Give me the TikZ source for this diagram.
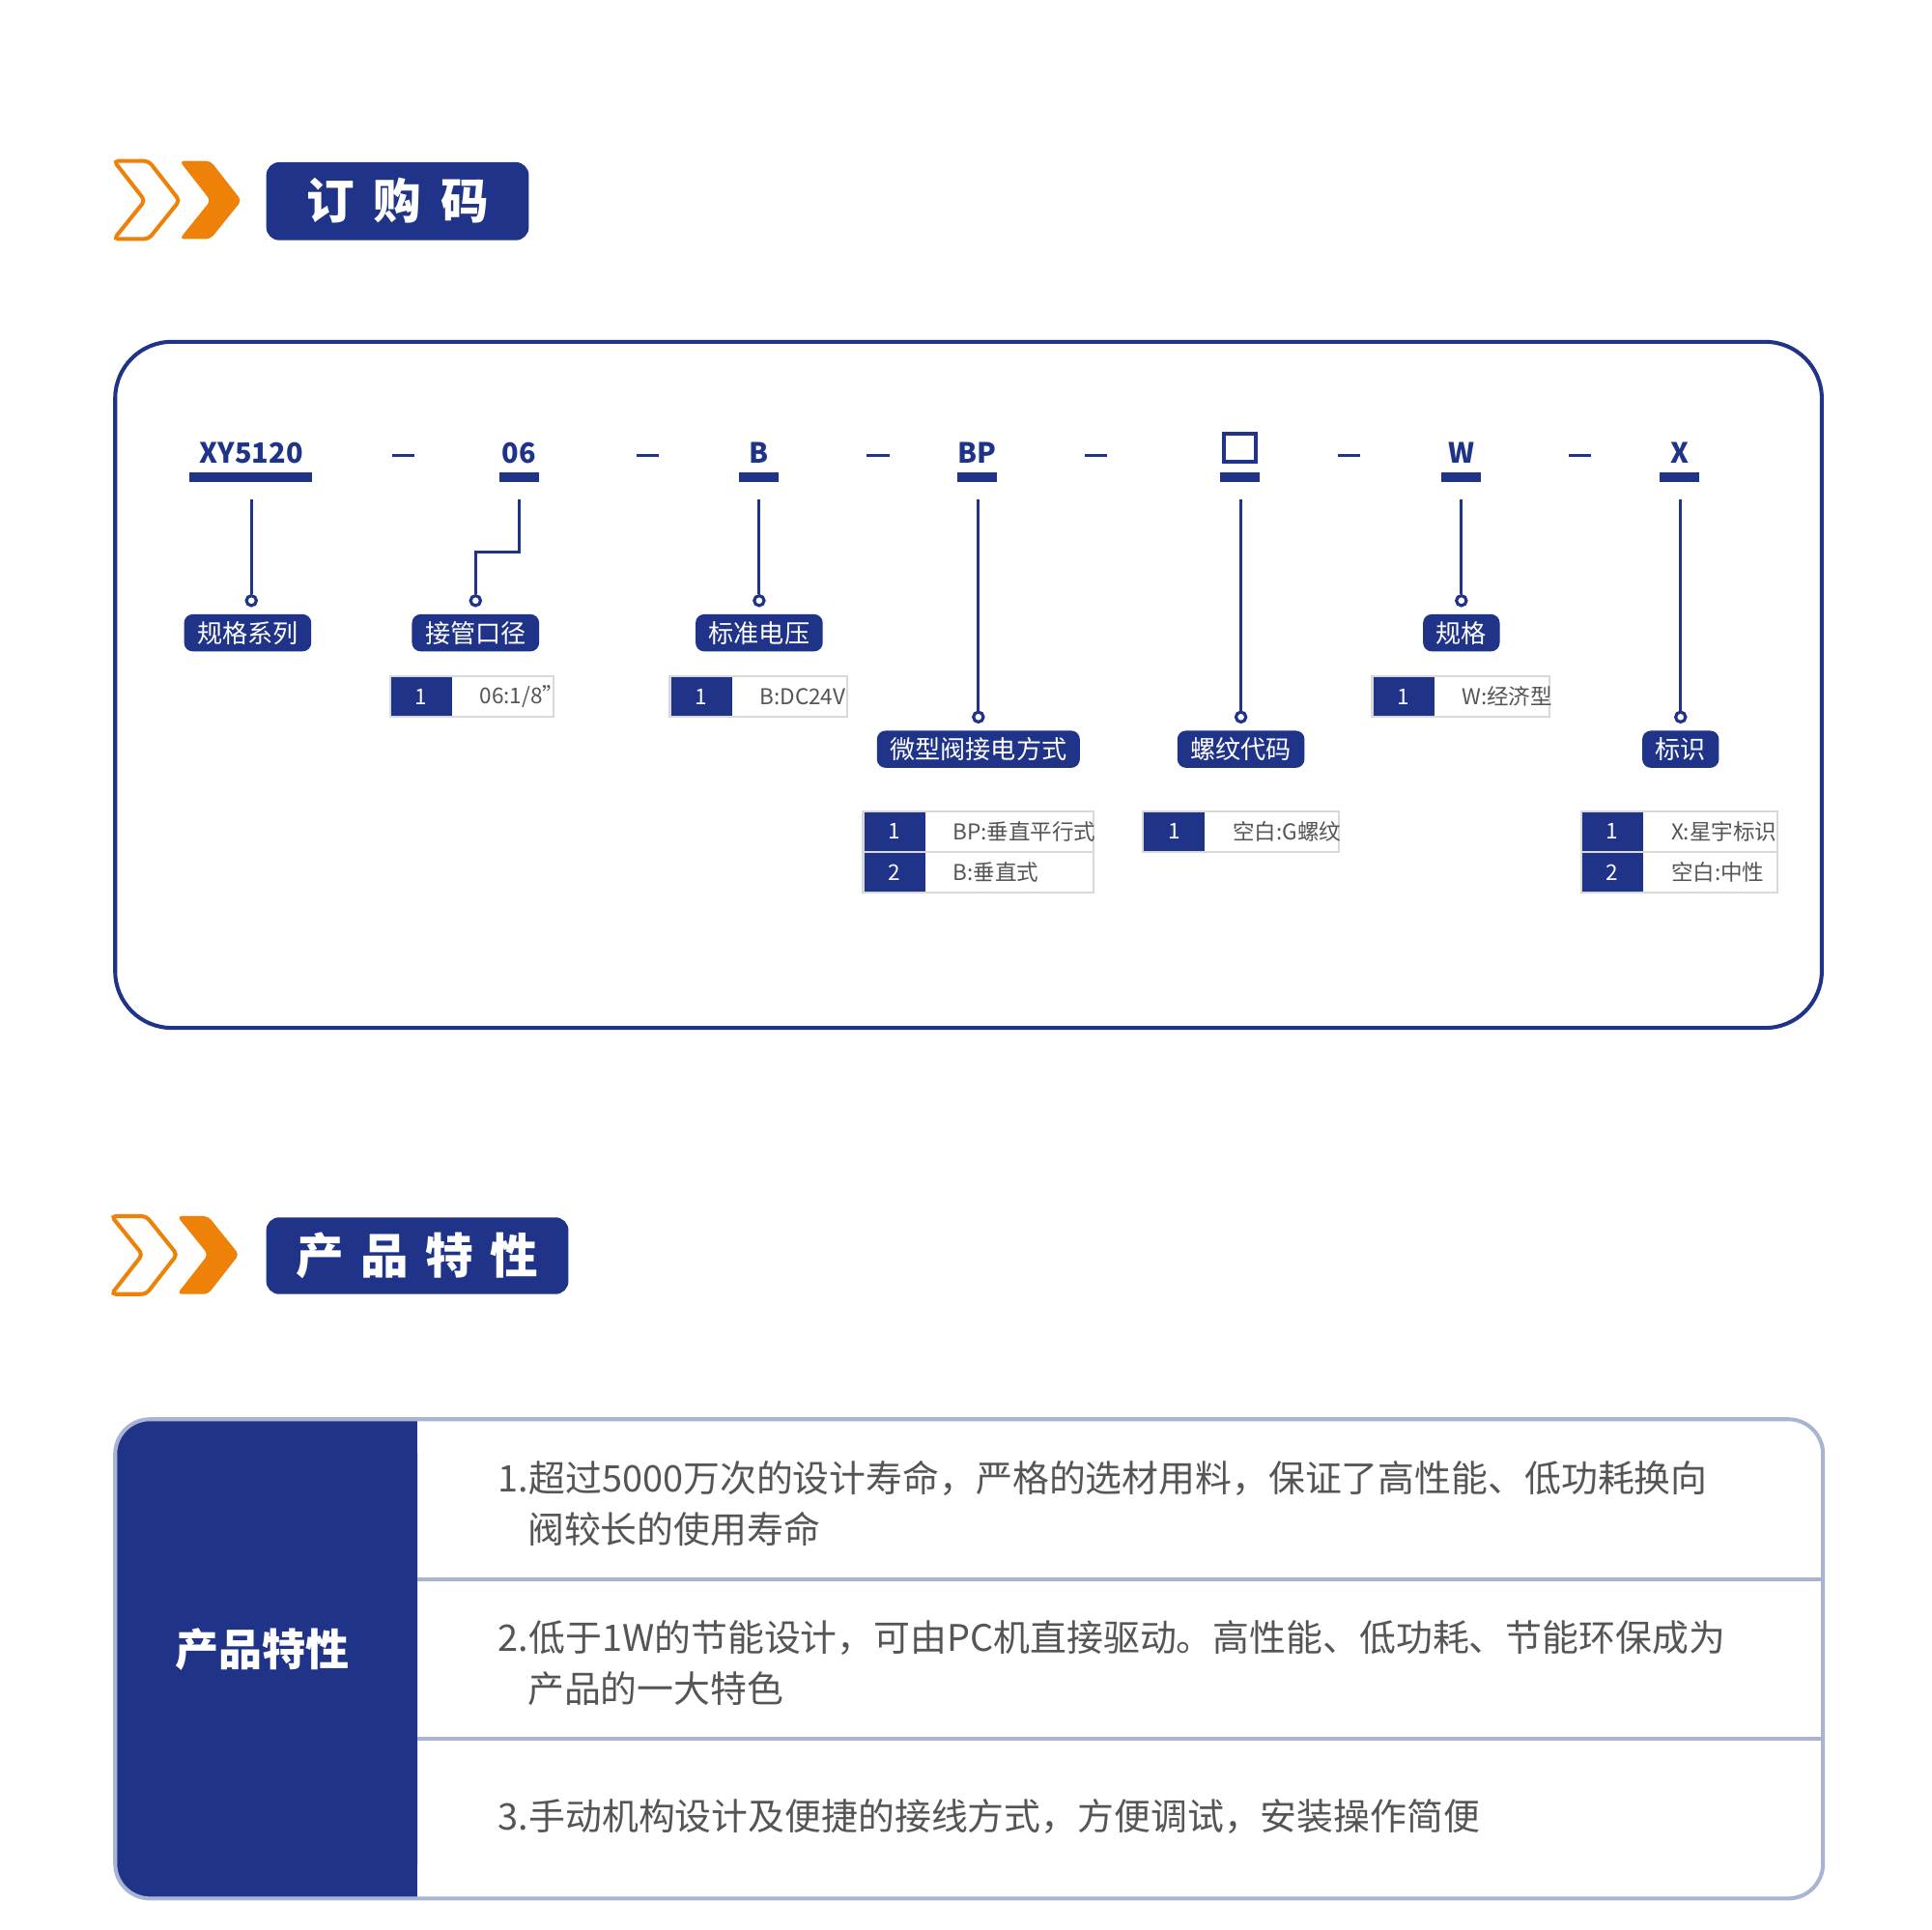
\documentclass[tikz,border=0pt]{standalone}
\usepackage{fontspec}
\setmainfont{Noto Sans CJK SC}
\definecolor{navy}{HTML}{1F3389}
\definecolor{orng}{HTML}{EE8208}
\definecolor{gline}{HTML}{A9B3D3}
\definecolor{txtg}{HTML}{555555}
\newcommand\ordrow[5]{%
  \fill[navy] (#1,#3) rectangle (#1+50,#3+33);
  \draw[gray!30,line width=0.5pt] (#1,#3) rectangle (#2,#3+33);
  \node[tabtxt,text=white] at (#1+25,#3+16.5) {#4};
  \node[tabtxt,anchor=west] at (#1+60,#3+16.5) {#5};}
\begin{document}
\begin{tikzpicture}[x=0.01cm,y=-0.01cm,
  code/.style={text=navy,font=\fontsize{6.4}{7}\selectfont\bfseries},
  pill/.style={fill=navy,text=white,rounded corners=2pt,inner xsep=3pt,inner ysep=0pt,minimum height=0.3cm,font=\fontsize{5.8}{6}\selectfont},
  tabtxt/.style={text=txtg,font=\fontsize{5}{6}\selectfont},
  vl/.style={navy,line width=0.7pt},
  circ/.style={draw=navy,line width=0.7pt,fill=white,circle,inner sep=0pt,minimum size=0.08cm},
  body/.style={text=txtg,anchor=west,align=left,font=\fontsize{8.4}{11.8}\selectfont}]
\useasboundingbox (0,0) rectangle (1560,1558);
\fill[white] (0,0) rectangle (1560,1558);
% section 1 header
\draw[orng,line width=0.9pt,rounded corners=1pt] (92,130)--(120,130)--(145,162)--(120,193)--(92,193)--(117,162)--cycle;
\fill[orng,rounded corners=1pt] (145,130)--(170,130)--(195,162)--(170,193)--(145,193)--(170,162)--cycle;
\fill[navy,rounded corners=3pt] (215,131) rectangle (427,194);
\node[text=white,font=\fontsize{11}{12}\selectfont\bfseries] (t1) at (321,162) {订\hspace{0.4em}购\hspace{0.4em}码};
% frame
\draw[navy,line width=0.9pt,rounded corners=13pt] (93,276) rectangle (1471,830);
% codes
\foreach \n/\x/\t in {a/203/XY5120,b/419/06,c/613/B,d/789/BP,f/1180/W,g/1356/X}
  \node[code] (c\n) at (\x,366) {\t};
\draw[navy,line width=0.9pt] (988,350) rectangle (1014,373);
\foreach \x in {326,523,709,885,1089,1276} \draw[navy,line width=0.7pt] (\x-9,368)--(\x+9,368);
\draw[navy,line width=2.2pt] (153,385)--(252,385);
\foreach \x in {419,613,789,1001,1180,1356} \draw[navy,line width=2.2pt] (\x-16,385)--(\x+16,385);
% connectors
\node[circ] (oa) at (203,485) {}; \draw[vl] (203,403)--(oa);
\node[circ] (ob) at (384,485) {}; \draw[vl] (419,403)--(419,446)--(384,446)--(ob);
\node[circ] (oc) at (613,485) {}; \draw[vl] (613,403)--(oc);
\node[circ] (of) at (1180,485) {}; \draw[vl] (1180,403)--(of);
\node[circ] (od) at (790,579) {}; \draw[vl] (790,403)--(od);
\node[circ] (oe) at (1002,579) {}; \draw[vl] (1002,403)--(oe);
\node[circ] (og) at (1357,579) {}; \draw[vl] (1357,403)--(og);
% pills
\node[pill] (pa) at (200,511) {规格系列};
\node[pill] (pb) at (384,511) {接管口径};
\node[pill] (pc) at (613,511) {标准电压};
\node[pill] (pf) at (1180,511) {规格};
\node[pill] (pd) at (790,605) {微型阀接电方式};
\node[pill] (pe) at (1002,605) {螺纹代码};
\node[pill] (pg) at (1357,605) {标识};
% tables
\ordrow{315}{447}{546}{1}{06:1/8"}
\ordrow{541}{684}{546}{1}{B:DC24V}
\ordrow{1108}{1251}{546}{1}{W:经济型}
\ordrow{697}{883}{655}{1}{BP:垂直平行式}
\ordrow{697}{883}{688}{2}{B:垂直式}
\ordrow{923}{1081}{655}{1}{空白:G螺纹}
\ordrow{1277}{1435}{655}{1}{X:星宇标识}
\ordrow{1277}{1435}{688}{2}{空白:中性}
% section 2 header
\draw[orng,line width=0.9pt,rounded corners=1pt] (90,982)--(118,982)--(143,1013)--(118,1045)--(90,1045)--(115,1013)--cycle;
\fill[orng,rounded corners=1pt] (143,982)--(168,982)--(193,1013)--(168,1045)--(143,1045)--(168,1013)--cycle;
\fill[navy,rounded corners=3pt] (215,983) rectangle (459,1045);
\node[text=white,font=\fontsize{11}{12}\selectfont\bfseries] (t2) at (337,1014) {产\hspace{0.35em}品\hspace{0.35em}特\hspace{0.35em}性};
% features table
\fill[navy,rounded corners=8pt] (93,1146) -- (337,1146) -- (337,1533) -- (93,1533) -- cycle;
\fill[navy] (300,1146) rectangle (337,1533);
\draw[gline,line width=0.9pt,rounded corners=8pt] (93,1146) rectangle (1472,1533);
\draw[gline,line width=0.9pt] (337,1275)--(1472,1275) (337,1404)--(1472,1404);
\node[text=white,font=\fontsize{10}{12}\selectfont\bfseries] (lf) at (212,1332) {产品特性};
\node[body] (r1) at (390,1214) {1.超过5000万次的设计寿命，严格的选材用料，保证了高性能、低功耗换向\\\hspace{0.8em}阀较长的使用寿命};
\node[body] (r2) at (390,1343) {2.低于1W的节能设计，可由PC机直接驱动。高性能、低功耗、节能环保成为\\\hspace{0.8em}产品的一大特色};
\node[body] (r3) at (390,1467) {3.手动机构设计及便捷的接线方式，方便调试，安装操作简便};
\end{tikzpicture}
\end{document}
